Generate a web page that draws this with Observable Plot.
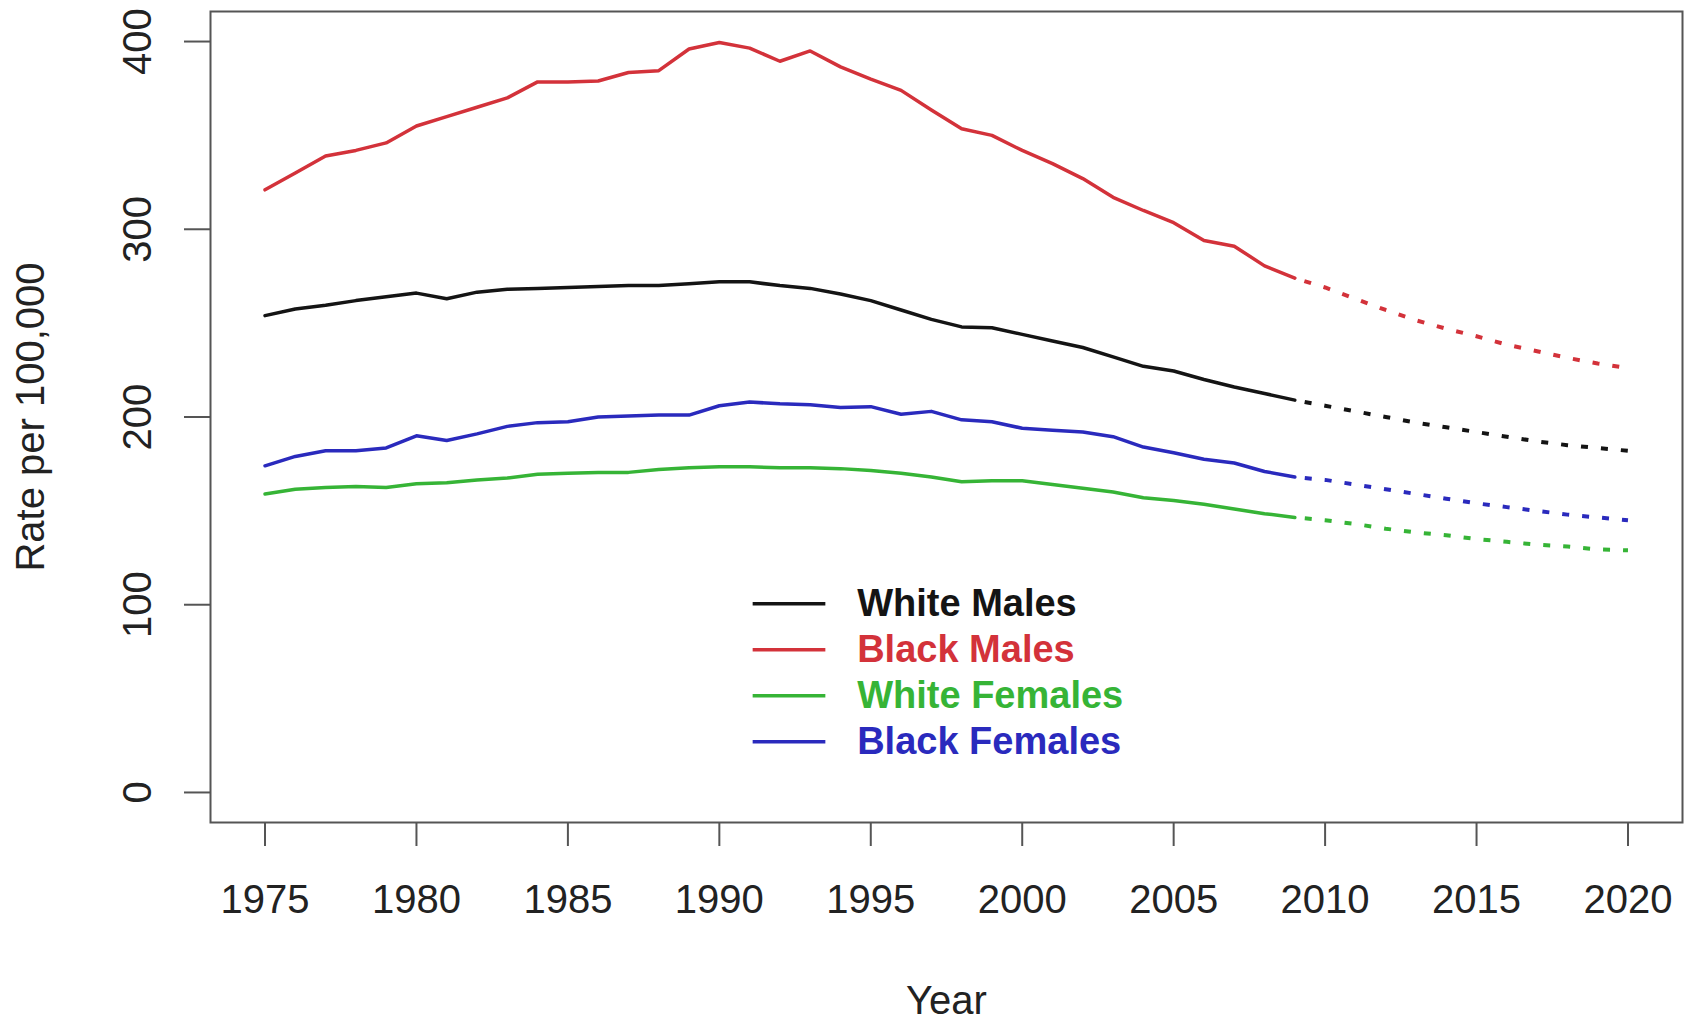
<!DOCTYPE html>
<html>
<head>
<meta charset="utf-8">
<script src="https://cdn.jsdelivr.net/npm/d3@7"></script>
<script src="https://cdn.jsdelivr.net/npm/@observablehq/plot@0.6"></script>
<style>
  html, body { margin: 0; padding: 0; background: #ffffff; }
  #chart { width: 1691px; height: 1030px; }
</style>
</head>
<body>
<div id="chart"></div>
<script>
// ---- Data ----
const seriesNames = ["White Males", "Black Males", "White Females", "Black Females"];
const seriesColors = ["#141414", "#d3323a", "#36b436", "#2a2abd"];

const years = [1975, 1976, 1977, 1978, 1979, 1980, 1981, 1982, 1983, 1984,
               1985, 1986, 1987, 1988, 1989, 1990, 1991, 1992, 1993, 1994,
               1995, 1996, 1997, 1998, 1999, 2000, 2001, 2002, 2003, 2004,
               2005, 2006, 2007, 2008, 2009];

const whiteMales = [254, 257.5, 259.5, 262, 264, 266, 263, 266.5, 268, 268.5,
                    269, 269.5, 270, 270, 271, 272, 272, 270, 268.5, 265.5,
                    262, 257, 252, 248, 247.5, 244, 240.5, 237, 232, 227,
                    224.5, 220, 216, 212.5, 209];
const blackMales = [321, 330, 339, 342, 346, 355, 360, 365, 370, 378.5,
                    378.5, 379, 383.5, 384.5, 396, 399.5, 396.5, 389.5, 395, 386.5,
                    380, 374, 363.5, 353.5, 350, 342, 335, 327, 317, 310,
                    303.5, 294, 291, 280.5, 274];
const whiteFemales = [159, 161.5, 162.5, 163, 162.5, 164.5, 165, 166.5, 167.5, 169.5,
                      170, 170.5, 170.5, 172, 173, 173.5, 173.5, 173, 173, 172.5,
                      171.5, 170, 168, 165.5, 166, 166, 164, 162, 160, 157,
                      155.5, 153.5, 151, 148.5, 146.5];
const blackFemales = [174, 179, 182, 182, 183.5, 190, 187.5, 191, 195, 197,
                      197.5, 200, 200.5, 201, 201, 206, 208, 207, 206.5, 205,
                      205.5, 201.5, 203, 198.5, 197.5, 194, 193, 192, 189.5, 184,
                      181, 177.5, 175.5, 171, 168];

const projYears = [2009, 2010, 2011, 2012, 2013, 2014, 2015, 2016, 2017, 2018, 2019, 2020];
const whiteMalesProj   = [209, 206, 203, 200, 197, 194.5, 192, 189.5, 187, 185, 183.5, 182];
const blackMalesProj   = [274, 269, 263, 257, 251.5, 247, 243, 238.5, 235, 231.5, 228.5, 226];
const whiteFemalesProj = [146.5, 145, 143, 140.5, 138.5, 137, 135, 133.5, 132, 131, 129.5, 129];
const blackFemalesProj = [168, 166.5, 164, 161.5, 159, 156.5, 154, 152, 150, 148, 146.5, 145];

const xTicks = [1975, 1980, 1985, 1990, 1995, 2000, 2005, 2010, 2015, 2020];
const yTicks = [0, 100, 200, 300, 400];

// legend placement (data coordinates)
const legendLineX1 = 1991.1, legendLineX2 = 1993.5, legendTextX = 1994.55;
const legendTopY = 100.5, legendStep = 24.5;

// ---- Build tables ----
const observed = [whiteMales, blackMales, whiteFemales, blackFemales];
const projected = [whiteMalesProj, blackMalesProj, whiteFemalesProj, blackFemalesProj];

const rows = [];
seriesNames.forEach((name, s) => {
  years.forEach((yr, i) => rows.push({series: name, year: yr, value: observed[s][i]}));
});
const projRows = [];
seriesNames.forEach((name, s) => {
  projYears.forEach((yr, i) => projRows.push({series: name, year: yr, value: projected[s][i]}));
});
const legendRows = seriesNames.map((name, i) => ({
  series: name,
  y: legendTopY - i * legendStep
}));

const font = "'Liberation Sans', Arial, Helvetica, sans-serif";

const chart = Plot.plot({
  width: 1691,
  height: 1030,
  marginLeft: 210,
  marginRight: 9,
  marginTop: 11,
  marginBottom: 208,
  style: {fontFamily: font, background: "#ffffff", color: "#222"},
  x: {domain: [1973.2, 2021.8]},
  y: {domain: [-16, 416]},
  color: {domain: seriesNames, range: seriesColors},
  marks: [
    Plot.axisX({
      ticks: xTicks, tickSize: 24, tickPadding: 38, fontSize: 40,
      tickFormat: d => String(d), label: null,
      stroke: "#555", strokeWidth: 2, fill: "#222"
    }),
    Plot.axisY({
      ticks: yTicks, tickSize: 26, tickPadding: 34, tickRotate: -90, fontSize: 40,
      tickFormat: d => String(d), label: null,
      stroke: "#555", strokeWidth: 2, fill: "#222"
    }),
    Plot.frame({stroke: "#555", strokeWidth: 2}),
    Plot.text(["Rate per 100,000"], {
      frameAnchor: "left", dx: -179, rotate: -90, fontSize: 40,
      textAnchor: "middle", lineAnchor: "middle", fill: "#222"
    }),
    Plot.text(["Year"], {
      frameAnchor: "bottom", dy: 179, fontSize: 40,
      textAnchor: "middle", lineAnchor: "middle", fill: "#222"
    }),
    Plot.line(rows, {
      x: "year", y: "value", z: "series", stroke: "series",
      strokeWidth: 3.5, strokeLinejoin: "round", strokeLinecap: "round"
    }),
    Plot.line(projRows, {
      x: "year", y: "value", z: "series", stroke: "series",
      strokeWidth: 4, strokeDasharray: "7,13", strokeDashoffset: 10,
      strokeLinecap: "butt"
    }),
    Plot.link(legendRows, {
      x1: () => legendLineX1, x2: () => legendLineX2, y1: "y", y2: "y",
      stroke: "series", strokeWidth: 3.5
    }),
    Plot.text(legendRows, {
      x: () => legendTextX, y: "y", text: "series", fill: "series",
      fontSize: 38, fontWeight: "bold", textAnchor: "start", lineAnchor: "middle"
    })
  ]
});

document.getElementById("chart").appendChild(chart);
</script>
</body>
</html>
